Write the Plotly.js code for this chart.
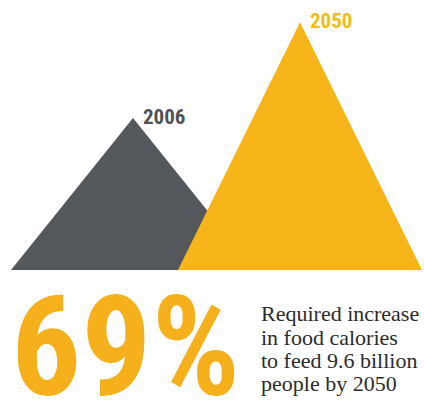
<!DOCTYPE html>
<html>
<head>
<meta charset="utf-8">
<script src="https://cdn.plot.ly/plotly-3.0.1.min.js"></script>
<style>html,body{margin:0;padding:0;background:#fff;}#chart{width:424px;height:401px;}</style>
</head>
<body>
<div id="chart"></div>
<script>
// Data (relative height of each triangle, 2006 = 100)
const years = ["2006", "2050"];
const values = [100, 163];
const headline = "69%";
const captionLines = ["Required increase", "in food calories", "to feed 9.6 billion", "people by 2050"];

const W = 424, H = 401;
const colors = ["#54585d", "#f7b519"];
const labelColors = ["#4f5257", "#f2bc12"];
const centers = [133, 300];   // triangle centres on the x axis
const halfWidth = 122;
const pxPerUnit = 1.52;       // vertical scale
const baseY = 270;            // pixel row of the baseline

const narrow = "'Roboto Condensed', 'Liberation Sans Narrow', 'DejaVu Sans Condensed', sans-serif";
const serif = "'Liberation Serif', 'DejaVu Serif', 'Times New Roman', serif";

const traces = years.map((yr, i) => ({
  type: "scatter",
  mode: "lines",
  x: [centers[i] - halfWidth, centers[i], centers[i] + halfWidth, centers[i] - halfWidth],
  y: [0, values[i], 0, 0],
  fill: "toself",
  fillcolor: colors[i],
  line: {width: 0, color: colors[i]},
  hoverinfo: "skip",
  showlegend: false
}));

const px = x => x / W;
const py = y => 1 - y / H;

const annotations = [];
years.forEach((yr, i) => {
  annotations.push({
    xref: "x", yref: "y",
    x: centers[i], y: values[i],
    xshift: 8, yshift: 1,
    text: "<b>" + yr + "</b>",
    showarrow: false, xanchor: "left", yanchor: "middle",
    font: {family: narrow, size: 21, color: labelColors[i]}
  });
});
annotations.push({
  xref: "paper", yref: "paper", x: px(9), y: py(347.5),
  text: "<b>" + headline + "</b>", showarrow: false, xanchor: "left", yanchor: "middle",
  font: {family: narrow, size: 139, color: "#f5b01c"}
});
const baselines = [321, 345, 368, 391];
captionLines.forEach((t, i) => {
  annotations.push({
    xref: "paper", yref: "paper", x: px(259), y: py(baselines[i] - 7.3),
    text: t, showarrow: false, xanchor: "left", yanchor: "middle",
    font: {family: serif, size: 22, color: "#2b2b2b"}
  });
});

const layout = {
  width: W, height: H,
  margin: {l: 0, r: 0, t: 0, b: 0},
  paper_bgcolor: "#ffffff", plot_bgcolor: "#ffffff",
  xaxis: {range: [0, W], visible: false, fixedrange: true},
  yaxis: {range: [-(H - baseY) / pxPerUnit, baseY / pxPerUnit], visible: false, fixedrange: true},
  annotations: annotations,
  showlegend: false
};

Plotly.newPlot("chart", traces, layout, {displayModeBar: false, staticPlot: true});
</script>
</body>
</html>
